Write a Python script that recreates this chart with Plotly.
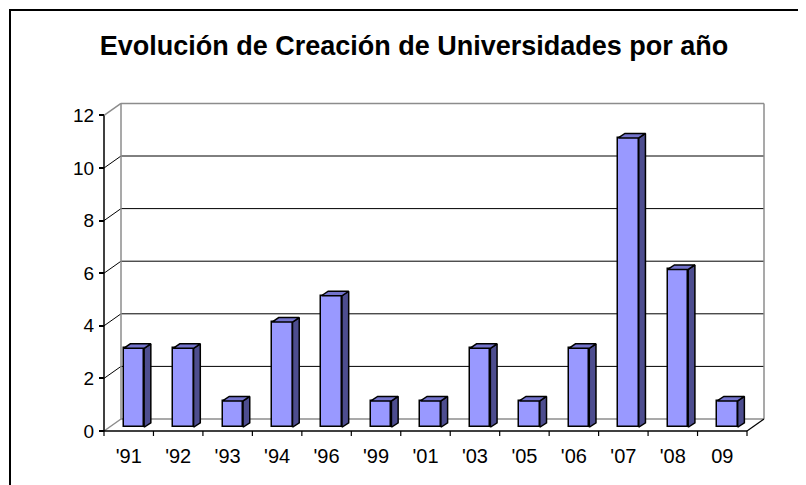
import plotly.graph_objects as go

# ---- data ----
categories = ["'91", "'92", "'93", "'94", "'96", "'99", "'01", "'03", "'05", "'06", "'07", "'08", "09"]
values = [3, 3, 1, 4, 5, 1, 1, 3, 1, 3, 11, 6, 1]
y_ticks = [0, 2, 4, 6, 8, 10, 12]
y_tick_labels = ["0", "2", "4", "6", "8", "10", "12"]
title_text = "Evolución de Creación de Universidades por año"

# ---- geometry (screen pixels -> figure pixels -> axis units) ----
PAGE = 8                      # default body margin of the page
W, H = 806 - PAGE, 485 - PAGE
ML, MR, MT, MB = 72, 22, 87, 40
PW = W - ML - MR
PH = H - MT - MB
X0_PX, XN_PX, V0_PX, PX_V = 104 - PAGE, 747 - PAGE, 431 - PAGE, 26.3
N = len(categories)
PX_U = (XN_PX - X0_PX) / N
xmin = -(X0_PX - ML) / PX_U
xmax = xmin + PW / PX_U
ymin = -((MT + PH) - V0_PX) / PX_V
ymax = ymin + PH / PX_V

DX = 17 / PX_U          # wall depth
DY = 12 / PX_V
BW = 20.5 / PX_U        # bar face width
BDX = 6.7 / PX_U        # bar depth
BDY = 4.5 / PX_V
OFFU = (DX - BDX) / 2
OFFV = (DY - BDY) / 2
VMAX = max(y_ticks)

FONT = "Liberation Sans, Arial, sans-serif"
GRAY = "#8c8c8c"

shapes = []
def line(x0, y0, x1, y1, color="black", width=1, layer="below"):
    shapes.append(dict(type="line", xref="x", yref="y", x0=x0, y0=y0, x1=x1, y1=y1,
                       line=dict(color=color, width=width), layer=layer))

# gridlines on side + back wall
for v in y_ticks:
    edge = v in (0, VMAX)
    c = GRAY if edge else "black"
    line(0, v, DX, v + DY, c, 1.5 if edge else 1)
    line(DX, v + DY, N + DX, v + DY, c, 1.5 if edge else 1)
# back wall verticals
line(DX, DY, DX, VMAX + DY, GRAY, 1.5)
line(N + DX, DY, N + DX, VMAX + DY, GRAY, 1.5)
# front value axis
line(0, 0, 0, VMAX, "black", 1.5)
# floor front edge and right diagonal
line(0, 0, N, 0, "black", 1.5)
line(N, 0, N + DX, DY, "black", 1.2)
# category boundary ticks
for i in range(N + 1):
    line(i, 0, i, -5 / PX_V, "black", 1.2)

# outer frame (paper coords)
shapes.append(dict(type="rect", xref="paper", yref="paper",
                   x0=(10 - PAGE - ML) / PW, x1=(800 - PAGE - ML) / PW,
                   y0=(MT + PH - 500) / PH, y1=(MT + PH - (10 - PAGE)) / PH,
                   line=dict(color="black", width=2), fillcolor="rgba(0,0,0,0)", layer="below"))

# ---- bars ----
xc = [i + 0.5 + OFFU for i in range(N)]
side_x, side_y, top_x, top_y = [], [], [], []
for c, v in zip(xc, values):
    xl, xr = c - BW / 2, c + BW / 2
    t = OFFV + v
    side_x += [xr, xr + BDX, xr + BDX, xr, xr, None]
    side_y += [OFFV, OFFV + BDY, t + BDY, t, OFFV, None]
    top_x += [xl, xl + BDX, xr + BDX, xr, xl, None]
    top_y += [t, t + BDY, t + BDY, t, t, None]

fig = go.Figure()
fig.add_trace(go.Scatter(x=side_x, y=side_y, mode="lines", fill="toself",
                         fillcolor="#4d4d8f", line=dict(color="black", width=1.5),
                         hoverinfo="skip", showlegend=False))
fig.add_trace(go.Scatter(x=top_x, y=top_y, mode="lines", fill="toself",
                         fillcolor="#7373cc", line=dict(color="black", width=1.5),
                         hoverinfo="skip", showlegend=False))
fig.add_trace(go.Bar(x=xc, y=values, base=OFFV, width=BW,
                     marker=dict(color="#9999ff", line=dict(color="black", width=1.5)),
                     showlegend=False))

fig.update_layout(
    width=W, height=H, autosize=False,
    margin=dict(l=ML, r=MR, t=MT, b=MB, autoexpand=False),
    paper_bgcolor="white", plot_bgcolor="white",
    shapes=shapes,
    title=dict(text=title_text, x=(414 - PAGE) / W, xref="container", xanchor="center",
               y=1 - (46 - PAGE) / H, yref="container", yanchor="middle",
               font=dict(family=FONT, size=27, color="black", weight="bold")),
    xaxis=dict(range=[xmin, xmax], tickvals=[i + 0.5 for i in range(N)], ticktext=categories,
               ticks="", showline=False, showgrid=False, zeroline=False,
               anchor="free", position=(MT + PH - V0_PX) / PH, ticklabelstandoff=11,
               automargin=False,
               tickfont=dict(family=FONT, size=20, color="black"), fixedrange=True),
    yaxis=dict(range=[ymin, ymax], tickvals=y_ticks, ticktext=y_tick_labels,
               ticks="outside", ticklen=5, tickwidth=1.5, tickcolor="black",
               showline=False, showgrid=False, zeroline=False,
               anchor="free", position=(X0_PX - ML) / PW, automargin=False,
               ticklabelstandoff=1,
               tickfont=dict(family=FONT, size=19, color="black"), fixedrange=True),
    bargap=0,
)

fig.write_html("out.html")
